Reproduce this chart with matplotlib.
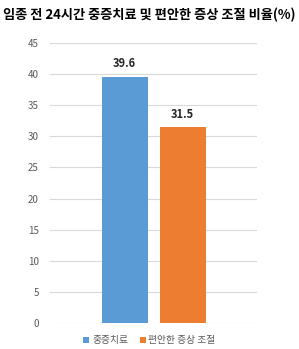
import matplotlib
matplotlib.use("Agg")
import matplotlib.pyplot as plt

plt.rcParams["font.family"] = ["Noto Sans CJK KR", "DejaVu Sans"]

title = "임종 전 24시간 중증치료 및 편안한 증상 조절 비율(%)"
series_names = ["중증치료", "편안한 증상 조절"]
series_values = [39.6, 31.5]
series_colors = ["#5B9BD5", "#ED7D31"]
y_ticks = [0, 5, 10, 15, 20, 25, 30, 35, 40, 45]

fig = plt.figure(figsize=(2.99, 3.49), dpi=100)
ax = fig.add_axes([0.167, 0.0745, 0.693, 0.8025])

bar_width = 0.222
offsets = [-0.14, 0.14]
for name, value, color, offset in zip(series_names, series_values, series_colors, offsets):
    ax.bar(offset, value, width=bar_width, color=color, label=name, zorder=3)
    ax.text(offset, value + 1.0, f"{value:.1f}", ha="center", va="bottom",
            fontsize=8, fontweight="bold", color="#262626")

ax.set_xlim(-0.5, 0.5)
ax.set_ylim(0, 45)
ax.set_yticks(y_ticks)
ax.set_xticks([])
ax.yaxis.grid(True, color="#D9D9D9", linewidth=0.8, zorder=0)
for spine in ax.spines.values():
    spine.set_visible(False)
ax.tick_params(axis="y", length=0, labelsize=7, labelcolor="#595959", pad=8)

fig.text(0.5, 0.958, title, ha="center", va="center", fontsize=9.5, fontweight="bold")
fig.legend(loc="center", bbox_to_anchor=(0.5, 0.025), ncol=2, frameon=False,
           fontsize=7, handlelength=0.6, handleheight=0.6, handletextpad=0.3,
           columnspacing=1.2, labelcolor="#595959")

fig.savefig("out.png", dpi=100)
